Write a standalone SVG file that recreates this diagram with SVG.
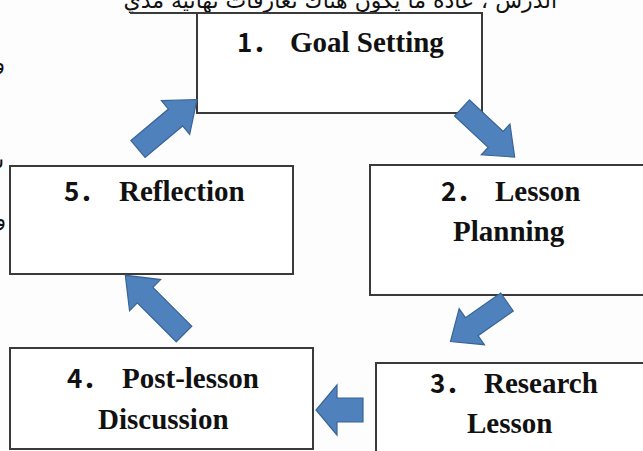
<svg xmlns="http://www.w3.org/2000/svg" width="643" height="451" viewBox="0 0 643 451">
<style>
.box{fill:#fff;stroke:#3a3a3a;stroke-width:2}
.w{font-family:"Liberation Serif","Times New Roman",serif;font-weight:bold;font-size:29px;fill:#111}
.n{font-family:"Noto Sans CJK SC","DejaVu Sans",sans-serif;font-weight:bold;font-size:26px;fill:#111}
.ar{font-family:"DejaVu Sans","Noto Sans",sans-serif;font-size:22px;fill:#111}
.arrow{fill:#4f81bd;stroke:#3a6593;stroke-width:1.2;stroke-linejoin:miter}
</style>
<rect x="0" y="0" width="643" height="451" fill="#fdfdfd"/>
<g id="background-text">
<text class="ar" x="557" y="8" text-anchor="start" direction="rtl">الدرس ، عادة ما يكون هناك تعارفات نهائية مدي</text>
<line x1="130" y1="13" x2="197" y2="13" stroke="#3a3a3a" stroke-width="2"/>
<text class="ar" x="5" y="70" text-anchor="end">و</text>
<text class="ar" x="4" y="168" text-anchor="end">س</text>
<text class="ar" x="6" y="226" text-anchor="end">و</text>
</g>
<g id="node1">
<rect class="box" x="197" y="13" width="285" height="100"/>
<text x="237" y="52"><tspan class="n">1．</tspan><tspan class="w" x="290">Goal Setting</tspan></text>
</g>
<g id="node2">
<rect class="box" x="370" y="165" width="290" height="130"/>
<text x="441" y="201"><tspan class="n">2．</tspan><tspan class="w" x="495">Lesson</tspan></text>
<text class="w" x="453" y="241">Planning</text>
</g>
<g id="node3">
<rect class="box" x="376" y="363" width="290" height="100"/>
<text x="430" y="393"><tspan class="n">3．</tspan><tspan class="w" x="484">Research</tspan></text>
<text class="w" x="467" y="433">Lesson</text>
</g>
<g id="node4">
<rect class="box" x="10" y="348" width="303" height="101"/>
<text x="67" y="388"><tspan class="n">4．</tspan><tspan class="w" x="122">Post-lesson</tspan></text>
<text class="w" x="98" y="429">Discussion</text>
</g>
<g id="node5">
<rect class="box" x="10" y="166" width="283" height="108"/>
<text x="64" y="201"><tspan class="n">5．</tspan><tspan class="w" x="119">Reflection</tspan></text>
</g>
<g id="connectors">
<path class="arrow" transform="translate(138,149) rotate(-40)" d="M0,-11 L49,-11 L49,-22 L77,0 L49,22 L49,11 L0,11 Z"/>
<path class="arrow" transform="translate(462,108) rotate(43)" d="M0,-11 L46,-11 L46,-21 L72,0 L46,21 L46,11 L0,11 Z"/>
<path class="arrow" transform="translate(507,302) rotate(145)" d="M0,-11 L43,-11 L43,-22 L69,0 L43,22 L43,11 L0,11 Z"/>
<path class="arrow" transform="translate(363,410) rotate(180)" d="M0,-12 L26,-12 L26,-25 L47,0 L26,25 L26,12 L0,12 Z"/>
<path class="arrow" transform="translate(184,334) rotate(-135)" d="M0,-11 L55,-11 L55,-22 L83,0 L55,22 L55,11 L0,11 Z"/>
</g>
</svg>
